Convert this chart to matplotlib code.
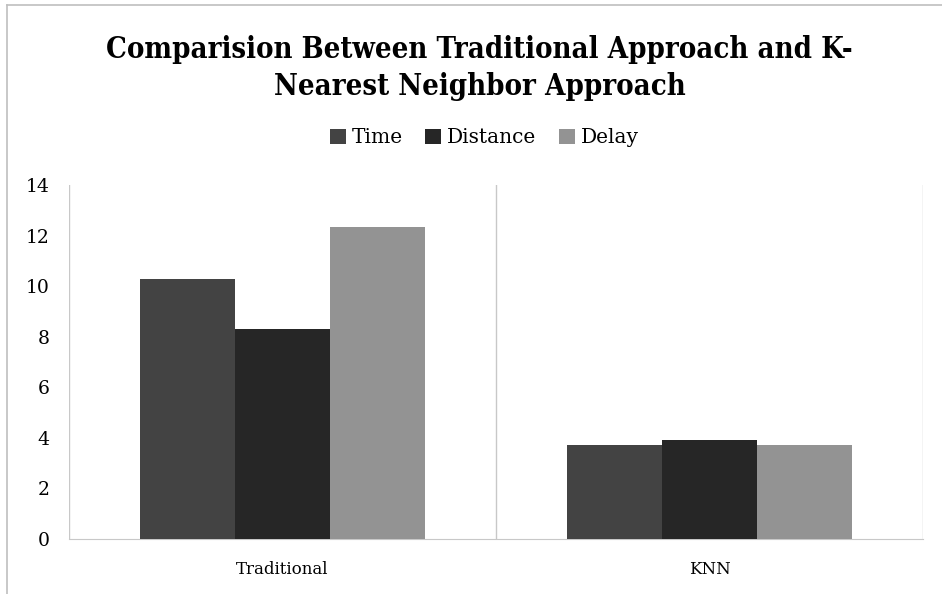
import matplotlib
matplotlib.use("Agg")
import matplotlib.pyplot as plt
import numpy as np
from matplotlib.patches import Patch
from matplotlib.lines import Line2D

categories = ["Traditional", "KNN"]
series_names = ["Time", "Distance", "Delay"]
time_vals = [10.3, 3.7]
distance_vals = [8.3, 3.9]
delay_vals = [12.35, 3.7]
colors = ["#434343", "#262626", "#939393"]

plt.rcParams["font.family"] = ["DejaVu Serif"]

fig = plt.figure(figsize=(9.42, 5.94), dpi=100)
ax = fig.add_axes([0.0732, 0.0926, 0.9066, 0.596])

x = np.arange(len(categories))
w = 0.223
for i, (vals, c) in enumerate(zip([time_vals, distance_vals, delay_vals], colors)):
    ax.bar(x + (i - 1) * w, vals, width=w, color=c, label=series_names[i], zorder=3)

ax.set_xlim(-0.5, len(categories) - 0.5)
ax.set_ylim(0, 14)
ax.set_yticks(range(0, 15, 2))
ax.set_xticks(x)
ax.set_xticklabels(categories, fontsize=12)

# category separators drawn as vertical gridlines
for b in np.arange(-0.5, len(categories), 1.0):
    ax.axvline(b, color="#c8c8c8", lw=1, zorder=1)

for s in ["top", "right", "left"]:
    ax.spines[s].set_visible(False)
ax.spines["bottom"].set_color("#c8c8c8")
ax.tick_params(axis="both", length=0)
ax.tick_params(axis="y", labelsize=13.5, pad=14)
ax.tick_params(axis="x", pad=16)

title_kw = dict(ha="center", va="baseline", fontsize=21, fontweight="bold",
                fontstretch="condensed")
fig.text(0.509, 0.9024, "Comparision Between Traditional Approach and K-", **title_kw)
fig.text(0.509, 0.840, "Nearest Neighbor Approach", **title_kw)

handles = [Patch(facecolor=c, edgecolor="none") for c in colors]
fig.legend(handles, series_names, loc="center", bbox_to_anchor=(0.514, 0.768),
           ncol=3, frameon=False, fontsize=14.5, handlelength=0.8, handleheight=0.8,
           handletextpad=0.3, columnspacing=1.1)

# outer chart border (left and top edges)
fig.add_artist(Line2D([0.0074, 0.0074], [0, 0.9916], color="#bfbfbf", lw=1.2,
                      transform=fig.transFigure))
fig.add_artist(Line2D([0.0074, 1.0], [0.9916, 0.9916], color="#bfbfbf", lw=1.2,
                      transform=fig.transFigure))

fig.savefig("out.png", dpi=100)
plt.close(fig)
